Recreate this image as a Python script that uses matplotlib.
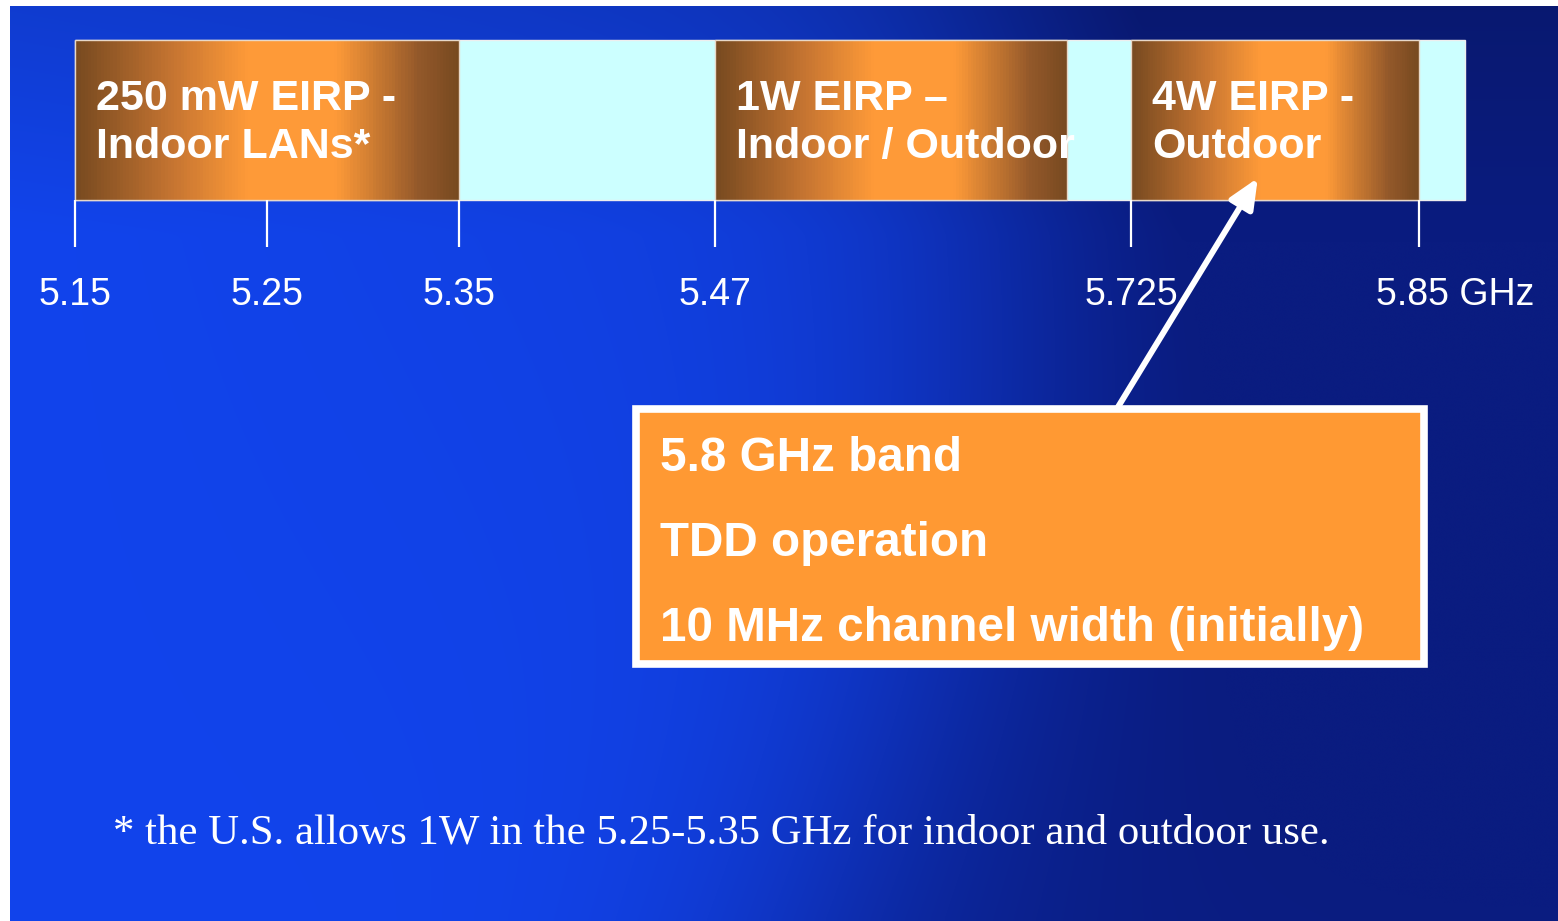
import numpy as np
import matplotlib
matplotlib.use("Agg")
import matplotlib.pyplot as plt
from matplotlib.colors import LinearSegmentedColormap
from matplotlib.patches import Rectangle
from matplotlib.transforms import blended_transform_factory

# Frequências (GHz)
FREQ_TICKS = [5.15, 5.25, 5.35, 5.47, 5.725, 5.85]
TICK_LABELS = ["5.15", "5.25", "5.35", "5.47", "5.725", "5.85 GHz"]
BAND_RANGE = (5.15, 5.87)

# Sub-bandas com limite de potência
SUB_START = [5.15, 5.47, 5.725]
SUB_END = [5.35, 5.686, 5.85]
SUB_LABELS = [
    ("250 mW EIRP -", "Indoor LANs*"),
    ("1W EIRP \u2013", "Indoor / Outdoor"),
    ("4W EIRP -", "Outdoor"),
]

ARROW_TARGET = 5.78
CALLOUT_LINES = ["5.8 GHz band", "TDD operation", "10 MHz channel width (initially)"]
FOOTNOTE = "* the U.S. allows 1W in the 5.25-5.35 GHz for indoor and outdoor use."

# Escala esquemática (não proporcional) do eixo de frequência
SCALE_FREQ = np.array([5.15, 5.35, 5.47, 5.725, 5.85])
SCALE_POS = np.array([0.0, 1.0, 1.6667, 2.75, 3.5])
S_LO = (SCALE_POS[1] - SCALE_POS[0]) / (SCALE_FREQ[1] - SCALE_FREQ[0])
S_HI = (SCALE_POS[-1] - SCALE_POS[-2]) / (SCALE_FREQ[-1] - SCALE_FREQ[-2])


def freq_to_pos(f):
    f = np.asarray(f, dtype=float)
    out = np.interp(f, SCALE_FREQ, SCALE_POS)
    out = np.where(f < SCALE_FREQ[0], SCALE_POS[0] + (f - SCALE_FREQ[0]) * S_LO, out)
    out = np.where(f > SCALE_FREQ[-1], SCALE_POS[-1] + (f - SCALE_FREQ[-1]) * S_HI, out)
    return out


def pos_to_freq(p):
    p = np.asarray(p, dtype=float)
    out = np.interp(p, SCALE_POS, SCALE_FREQ)
    out = np.where(p < SCALE_POS[0], SCALE_FREQ[0] + (p - SCALE_POS[0]) / S_LO, out)
    out = np.where(p > SCALE_POS[-1], SCALE_FREQ[-1] + (p - SCALE_POS[-1]) / S_HI, out)
    return out


def background(h=230, w=390):
    # fundo azul com a "onda" escura à direita
    y, x = np.mgrid[0:1:h * 1j, 0:1:w * 1j]
    bright = np.array([18, 68, 236]) / 255
    dark = np.array([10, 28, 128]) / 255
    edge = 0.64 - 0.12 * y + 0.05 * np.sin(3.0 * y)
    t = 1 / (1 + np.exp(-(x - edge) / 0.07))
    t = np.clip(t + 0.3 * (1 - y) * x, 0, 1)
    top = np.clip(1 - y / 0.25, 0, 1) * 0.12
    img = bright[None, None, :] * (1 - t[..., None]) + dark[None, None, :] * t[..., None]
    img = img * (1 - top[..., None])
    return np.clip(img, 0, 1)


def main():
    fig = plt.figure(figsize=(15.58, 9.21), dpi=100, facecolor="white")

    bg = fig.add_axes([10 / 1558, 0, 1548 / 1558, 915 / 921])
    bg.imshow(background(), aspect="auto", interpolation="bicubic")
    bg.axis("off")

    ax = fig.add_axes([0, 0, 1, 1], facecolor="none")
    ax.set_xscale("function", functions=(freq_to_pos, pos_to_freq))
    ax.set_xlim(5.1109, 5.9103)
    ax.set_ylim(921, 0)
    ax.axis("off")

    sans = "Liberation Sans"

    # Faixa completa
    ax.add_patch(Rectangle((BAND_RANGE[0], 40), BAND_RANGE[1] - BAND_RANGE[0], 160,
                           facecolor="#ccffff", edgecolor="#eeeeee", lw=1, zorder=1))

    # Sub-bandas com gradiente marrom/laranja
    cmap = LinearSegmentedColormap.from_list(
        "copper_band",
        [(0.0, "#784a20"), (0.25, "#c57431"), (0.45, "#fe9a38"),
         (0.68, "#fe9a38"), (0.9, "#93582a"), (1.0, "#784a20")])
    for f0, f1, (l1, l2) in zip(SUB_START, SUB_END, SUB_LABELS):
        xe = np.linspace(f0, f1, 121)
        ax.pcolormesh(xe, [40, 200], np.linspace(0, 1, 120)[None, :],
                      cmap=cmap, shading="flat", zorder=2)
        ax.add_patch(Rectangle((f0, 40), f1 - f0, 160, facecolor="none",
                               edgecolor="#e8d8c8", lw=1, zorder=3))
        ax.annotate(l1, xy=(f0, 110), xytext=(15, 0), textcoords="offset points",
                    color="white", fontsize=31, fontweight="bold", family=sans,
                    va="baseline", ha="left", zorder=5)
        ax.annotate(l2, xy=(f0, 158), xytext=(15, 0), textcoords="offset points",
                    color="white", fontsize=31, fontweight="bold", family=sans,
                    va="baseline", ha="left", zorder=5)

    # Marcas de frequência
    ax.vlines(FREQ_TICKS, 200, 247, color="white", lw=1.6, zorder=3)
    for f, lab in zip(FREQ_TICKS, TICK_LABELS):
        if lab.endswith("GHz"):
            ax.annotate(lab, xy=(f, 305), xytext=(-31, 0), textcoords="offset points",
                        color="white", fontsize=27, family=sans, ha="left", va="baseline")
        else:
            ax.text(f, 305, lab, color="white", fontsize=27, family=sans,
                    ha="center", va="baseline")

    # Caixa de destaque
    tr = blended_transform_factory(ax.transAxes, ax.transData)
    ax.add_patch(Rectangle((636 / 1558, 409), (1424 - 636) / 1558, 255, transform=tr,
                           facecolor="#ff9933", edgecolor="white", lw=5.5, zorder=4))
    for txt, yb in zip(CALLOUT_LINES, [471, 556, 641]):
        ax.text(660 / 1558, yb, txt, transform=tr, color="white", fontsize=34.3,
                fontweight="bold", family=sans, ha="left", va="baseline", zorder=5)

    # Seta até a banda de 5.8 GHz
    ax.annotate("", xy=(ARROW_TARGET, 178), xycoords="data",
                xytext=(1118 / 1558, 407), textcoords=("axes fraction", "data"),
                arrowprops=dict(arrowstyle="-|>,head_length=0.9,head_width=0.4",
                                mutation_scale=20, lw=4.3, color="white",
                                shrinkA=0, shrinkB=0), zorder=6)

    # Nota de rodapé
    ax.text(113 / 1558, 843, FOOTNOTE, transform=tr, color="white", fontsize=30.8,
            family="Liberation Serif", ha="left", va="baseline")

    fig.savefig("out.png", dpi=100, facecolor=fig.get_facecolor())


if __name__ == "__main__":
    main()
